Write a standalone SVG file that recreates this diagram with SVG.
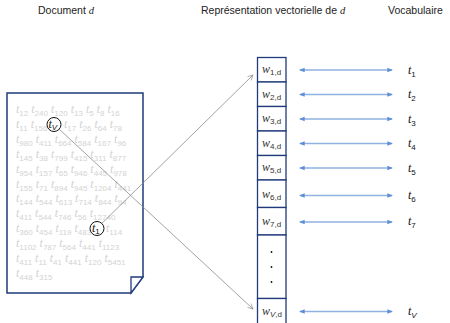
<svg xmlns="http://www.w3.org/2000/svg" width="450" height="323" viewBox="0 0 450 323">
<style>
.title{font-family:"Liberation Sans",Arial,sans-serif;font-size:10.5px;fill:#222}
.ti{font-family:"Liberation Serif","Times New Roman",serif;font-style:italic}
.dt{font-family:"Liberation Serif","Times New Roman",serif;font-style:italic;font-size:12px;fill:#d3d3d3}
.sb{font-family:"Liberation Sans",Arial,sans-serif;font-style:normal;font-size:8px}
.blk{font-family:"Liberation Serif","Times New Roman",serif;font-style:italic;font-size:12px;fill:#111}
.w{font-family:"Liberation Serif","Times New Roman",serif;font-style:italic;font-size:12px;fill:#333}
.doc{fill:#fff;stroke:#1f3b7a;stroke-width:1.5}
.cell{fill:#fff;stroke:#1f3b7a;stroke-width:1.3}
.blue{stroke:#8fb2e0;stroke-width:1.4;fill:none;marker-start:url(#bh);marker-end:url(#bh)}
.gray{stroke:#8a8a8a;stroke-width:0.8;fill:none;marker-end:url(#gh)}
.circ{fill:#fff;stroke:#111;stroke-width:1}
</style>
<defs>
<marker id="bh" viewBox="0 0 6 6" refX="5" refY="3" markerWidth="4" markerHeight="4" orient="auto-start-reverse" markerUnits="strokeWidth">
<path d="M0,0.5 L6,3 L0,5.5 Z" fill="#5f8fd4"/>
</marker>
<marker id="gh" viewBox="0 0 10 10" refX="9" refY="5" markerWidth="8" markerHeight="8" orient="auto" markerUnits="strokeWidth">
<path d="M1,1 L9,5 L1,9" fill="none" stroke="#8a8a8a" stroke-width="1"/>
</marker>
</defs>

<g id="titles">
<text class="title" x="38" y="14">Document  <tspan class="ti">d</tspan></text>
<text class="title" x="201" y="14">Représentation vectorielle de <tspan class="ti">d</tspan></text>
<text class="title" x="388" y="14">Vocabulaire</text>
</g>

<g id="document">
<path class="doc" d="M7,93 L143,93 L143,277 L131,293 L7,293 Z"/>
<path d="M131,293 L131,277 L143,277 Z" fill="#fff" stroke="#1f3b7a" stroke-width="1.3"/>
<text class="dt" x="16" y="113">t<tspan class="sb" dy="3">12</tspan><tspan dy="-3"> t</tspan><tspan class="sb" dy="3">240</tspan><tspan dy="-3"> t</tspan><tspan class="sb" dy="3">120</tspan><tspan dy="-3"> t</tspan><tspan class="sb" dy="3">13</tspan><tspan dy="-3"> t</tspan><tspan class="sb" dy="3">5</tspan><tspan dy="-3"> t</tspan><tspan class="sb" dy="3">8</tspan><tspan dy="-3"> t</tspan><tspan class="sb" dy="3">16</tspan></text>
<text class="dt" x="16" y="127.9">t<tspan class="sb" dy="3">11</tspan><tspan dy="-3"> t</tspan><tspan class="sb" dy="3">156</tspan></text>
<text class="dt" x="64" y="127.9">t<tspan class="sb" dy="3">17</tspan><tspan dy="-3"> t</tspan><tspan class="sb" dy="3">26</tspan><tspan dy="-3"> t</tspan><tspan class="sb" dy="3">64</tspan><tspan dy="-3"> t</tspan><tspan class="sb" dy="3">78</tspan></text>
<text class="dt" x="16" y="142.8">t<tspan class="sb" dy="3">980</tspan><tspan dy="-3"> t</tspan><tspan class="sb" dy="3">411</tspan><tspan dy="-3"> t</tspan><tspan class="sb" dy="3">664</tspan><tspan dy="-3"> t</tspan><tspan class="sb" dy="3">584</tspan><tspan dy="-3"> t</tspan><tspan class="sb" dy="3">167</tspan><tspan dy="-3"> t</tspan><tspan class="sb" dy="3">96</tspan></text>
<text class="dt" x="16" y="157.7">t<tspan class="sb" dy="3">145</tspan><tspan dy="-3"> t</tspan><tspan class="sb" dy="3">38</tspan><tspan dy="-3"> t</tspan><tspan class="sb" dy="3">799</tspan><tspan dy="-3"> t</tspan><tspan class="sb" dy="3">415</tspan><tspan dy="-3"> t</tspan><tspan class="sb" dy="3">311</tspan><tspan dy="-3"> t</tspan><tspan class="sb" dy="3">877</tspan></text>
<text class="dt" x="16" y="172.6">t<tspan class="sb" dy="3">954</tspan><tspan dy="-3"> t</tspan><tspan class="sb" dy="3">157</tspan><tspan dy="-3"> t</tspan><tspan class="sb" dy="3">65</tspan><tspan dy="-3"> t</tspan><tspan class="sb" dy="3">946</tspan><tspan dy="-3"> t</tspan><tspan class="sb" dy="3">445</tspan><tspan dy="-3"> t</tspan><tspan class="sb" dy="3">978</tspan></text>
<text class="dt" x="16" y="187.5">t<tspan class="sb" dy="3">155</tspan><tspan dy="-3"> t</tspan><tspan class="sb" dy="3">71</tspan><tspan dy="-3"> t</tspan><tspan class="sb" dy="3">894</tspan><tspan dy="-3"> t</tspan><tspan class="sb" dy="3">945</tspan><tspan dy="-3"> t</tspan><tspan class="sb" dy="3">1204</tspan><tspan dy="-3"> t</tspan><tspan class="sb" dy="3">441</tspan></text>
<text class="dt" x="16" y="202.4">t<tspan class="sb" dy="3">144</tspan><tspan dy="-3"> t</tspan><tspan class="sb" dy="3">544</tspan><tspan dy="-3"> t</tspan><tspan class="sb" dy="3">613</tspan><tspan dy="-3"> t</tspan><tspan class="sb" dy="3">714</tspan><tspan dy="-3"> t</tspan><tspan class="sb" dy="3">844</tspan><tspan dy="-3"> t</tspan><tspan class="sb" dy="3">94</tspan></text>
<text class="dt" x="16" y="217.3">t<tspan class="sb" dy="3">411</tspan><tspan dy="-3"> t</tspan><tspan class="sb" dy="3">544</tspan><tspan dy="-3"> t</tspan><tspan class="sb" dy="3">746</tspan><tspan dy="-3"> t</tspan><tspan class="sb" dy="3">56</tspan><tspan dy="-3"> t</tspan><tspan class="sb" dy="3">12740</tspan></text>
<text class="dt" x="16" y="232.2">t<tspan class="sb" dy="3">360</tspan><tspan dy="-3"> t</tspan><tspan class="sb" dy="3">454</tspan><tspan dy="-3"> t</tspan><tspan class="sb" dy="3">119</tspan><tspan dy="-3"> t</tspan><tspan class="sb" dy="3">483</tspan></text>
<text class="dt" x="106" y="232.2">t<tspan class="sb" dy="3">114</tspan></text>
<text class="dt" x="16" y="247.1">t<tspan class="sb" dy="3">1102</tspan><tspan dy="-3"> t</tspan><tspan class="sb" dy="3">787</tspan><tspan dy="-3"> t</tspan><tspan class="sb" dy="3">564</tspan><tspan dy="-3"> t</tspan><tspan class="sb" dy="3">441</tspan><tspan dy="-3"> t</tspan><tspan class="sb" dy="3">1123</tspan></text>
<text class="dt" x="16" y="262">t<tspan class="sb" dy="3">411</tspan><tspan dy="-3"> t</tspan><tspan class="sb" dy="3">11</tspan><tspan dy="-3"> t</tspan><tspan class="sb" dy="3">41</tspan><tspan dy="-3"> t</tspan><tspan class="sb" dy="3">441</tspan><tspan dy="-3"> t</tspan><tspan class="sb" dy="3">120</tspan><tspan dy="-3"> t</tspan><tspan class="sb" dy="3">5451</tspan></text>
<text class="dt" x="16" y="276.9">t<tspan class="sb" dy="3">448</tspan><tspan dy="-3"> t</tspan><tspan class="sb" dy="3">315</tspan></text>
</g>

<g id="term-tV">
<circle class="circ" cx="54" cy="124.5" r="7"/>
<text class="blk" x="48.5" y="127.5">t<tspan class="sb ti" style="font-style:italic" dy="2.5">V</tspan></text>
</g>
<g id="term-t1">
<circle class="circ" cx="97" cy="228.5" r="7"/>
<text class="blk" x="92" y="231.5">t<tspan class="sb" dy="2.5">1</tspan></text>
</g>

<g id="vector">
<rect class="cell" x="257.5" y="57.5" width="28.5" height="24.5"/>
<rect class="cell" x="257.5" y="82" width="28.5" height="24.5"/>
<rect class="cell" x="257.5" y="106.5" width="28.5" height="24.5"/>
<rect class="cell" x="257.5" y="131" width="28.5" height="24.5"/>
<rect class="cell" x="257.5" y="155.5" width="28.5" height="24.5"/>
<rect class="cell" x="257.5" y="180" width="28.5" height="27.5"/>
<rect class="cell" x="257.5" y="207.5" width="28.5" height="27.5"/>
<rect class="cell" x="257.5" y="235" width="28.5" height="63.5"/>
<rect class="cell" x="257.5" y="298.5" width="28.5" height="30"/>
<text class="w" x="262" y="73">w<tspan class="sb" dy="2">1,d</tspan></text>
<text class="w" x="262" y="97.5">w<tspan class="sb" dy="2">2,d</tspan></text>
<text class="w" x="262" y="122">w<tspan class="sb" dy="2">3,d</tspan></text>
<text class="w" x="262" y="146.5">w<tspan class="sb" dy="2">4,d</tspan></text>
<text class="w" x="262" y="171">w<tspan class="sb" dy="2">5,d</tspan></text>
<text class="w" x="262" y="198">w<tspan class="sb" dy="2">6,d</tspan></text>
<text class="w" x="262" y="225">w<tspan class="sb" dy="2">7,d</tspan></text>
<circle cx="271.5" cy="252" r="0.9" fill="#111"/>
<circle cx="271.5" cy="267" r="0.9" fill="#111"/>
<circle cx="271.5" cy="282" r="0.9" fill="#111"/>
<text class="w" x="262" y="314.5">w<tspan class="sb" dy="2"><tspan style="font-style:italic">V</tspan>,d</tspan></text>
</g>

<g id="vocabulary">
<text class="blk" x="408" y="73.5">t<tspan class="sb" dy="3">1</tspan></text>
<text class="blk" x="408" y="98">t<tspan class="sb" dy="3">2</tspan></text>
<text class="blk" x="408" y="122.5">t<tspan class="sb" dy="3">3</tspan></text>
<text class="blk" x="408" y="147">t<tspan class="sb" dy="3">4</tspan></text>
<text class="blk" x="408" y="171.5">t<tspan class="sb" dy="3">5</tspan></text>
<text class="blk" x="408" y="198.5">t<tspan class="sb" dy="3">6</tspan></text>
<text class="blk" x="408" y="225">t<tspan class="sb" dy="3">7</tspan></text>
<text class="blk" x="408" y="314.5">t<tspan class="sb" style="font-style:italic" dy="3">V</tspan></text>
</g>

<g id="connectors">
<line class="blue" x1="300" y1="70" x2="392" y2="70"/>
<line class="blue" x1="300" y1="94.5" x2="392" y2="94.5"/>
<line class="blue" x1="300" y1="119" x2="392" y2="119"/>
<line class="blue" x1="300" y1="143.5" x2="392" y2="143.5"/>
<line class="blue" x1="300" y1="168" x2="392" y2="168"/>
<line class="blue" x1="300" y1="195.5" x2="392" y2="195.5"/>
<line class="blue" x1="300" y1="222" x2="392" y2="222"/>
<line class="blue" x1="300" y1="311.5" x2="392" y2="311.5"/>
<line class="gray" x1="59" y1="129" x2="253" y2="309"/>
<line class="gray" x1="101.8" y1="223.5" x2="253" y2="75"/>
</g>
</svg>
